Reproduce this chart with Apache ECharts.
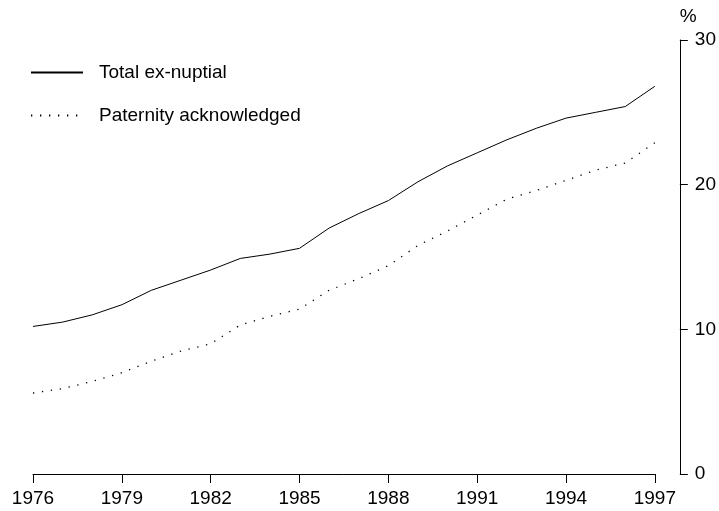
<!DOCTYPE html>
<html>
<head>
<meta charset="utf-8">
<script src="https://cdn.jsdelivr.net/npm/echarts@6/dist/echarts.min.js"></script>
<style>
html, body { margin: 0; padding: 0; background: #fff; }
#chart { width: 719px; height: 511px; }
</style>
</head>
<body>
<div id="chart"></div>
<script>
var years = ['1976','1977','1978','1979','1980','1981','1982','1983','1984','1985','1986',
             '1987','1988','1989','1990','1991','1992','1993','1994','1995','1996','1997'];
var totalExNuptial = [10.2, 10.5, 11.0, 11.7, 12.7, 13.4, 14.1, 14.9, 15.2, 15.6, 17.0,
                      18.0, 18.9, 20.2, 21.3, 22.2, 23.1, 23.9, 24.6, 25.0, 25.4, 26.8];
var paternityAck = [5.6, 5.9, 6.4, 7.0, 7.8, 8.5, 9.0, 10.3, 10.9, 11.4, 12.7,
                    13.5, 14.4, 15.8, 16.8, 17.9, 19.0, 19.6, 20.3, 21.0, 21.5, 22.9];
var yTicks = [0, 10, 20, 30];

var font = 'Liberation Sans, Arial, sans-serif';
var chart = echarts.init(document.getElementById('chart'));

var option = {
    animation: false,
    backgroundColor: '#fff',
    textStyle: { fontFamily: font },
    grid: { left: 33, right: 64, top: 40, bottom: 37 },
    legend: {
        orient: 'vertical',
        left: 30,
        top: 63,
        padding: 0,
        itemWidth: 52,
        itemHeight: 20,
        itemGap: 24,
        itemStyle: { opacity: 0 },
        textStyle: { color: '#000', fontSize: 19, fontFamily: font, padding: [0, 0, 0, 11] },
        data: ['Total ex-nuptial', 'Paternity acknowledged']
    },
    xAxis: {
        type: 'category',
        boundaryGap: false,
        data: years,
        axisLine: { lineStyle: { color: '#000', width: 1 } },
        axisTick: { interval: 2, length: 9, lineStyle: { color: '#000' } },
        axisLabel: { interval: 2, color: '#000', fontSize: 19, margin: 15, fontFamily: font },
        splitLine: { show: false }
    },
    yAxis: {
        type: 'value',
        position: 'right',
        offset: 25,
        min: yTicks[0],
        max: yTicks[yTicks.length - 1],
        interval: 10,
        name: '%',
        nameLocation: 'end',
        nameGap: 14,
        nameTextStyle: { color: '#000', fontSize: 19, fontFamily: font, align: 'left' },
        axisLine: { show: true, lineStyle: { color: '#000', width: 1 } },
        axisTick: { show: true, length: 8, lineStyle: { color: '#000' } },
        axisLabel: { color: '#000', fontSize: 19, margin: 15, fontFamily: font },
        splitLine: { show: false }
    },
    series: [
        {
            name: 'Total ex-nuptial',
            type: 'line',
            symbol: 'none',
            data: totalExNuptial,
            lineStyle: { color: '#000', width: 1 },
            itemStyle: { color: '#000' }
        },
        {
            name: 'Paternity acknowledged',
            type: 'line',
            symbol: 'none',
            data: paternityAck,
            lineStyle: { color: '#000', width: 1.3, type: [1.3, 7.7] },
            itemStyle: { color: '#000' }
        }
    ]
};
chart.setOption(option);
</script>
</body>
</html>
